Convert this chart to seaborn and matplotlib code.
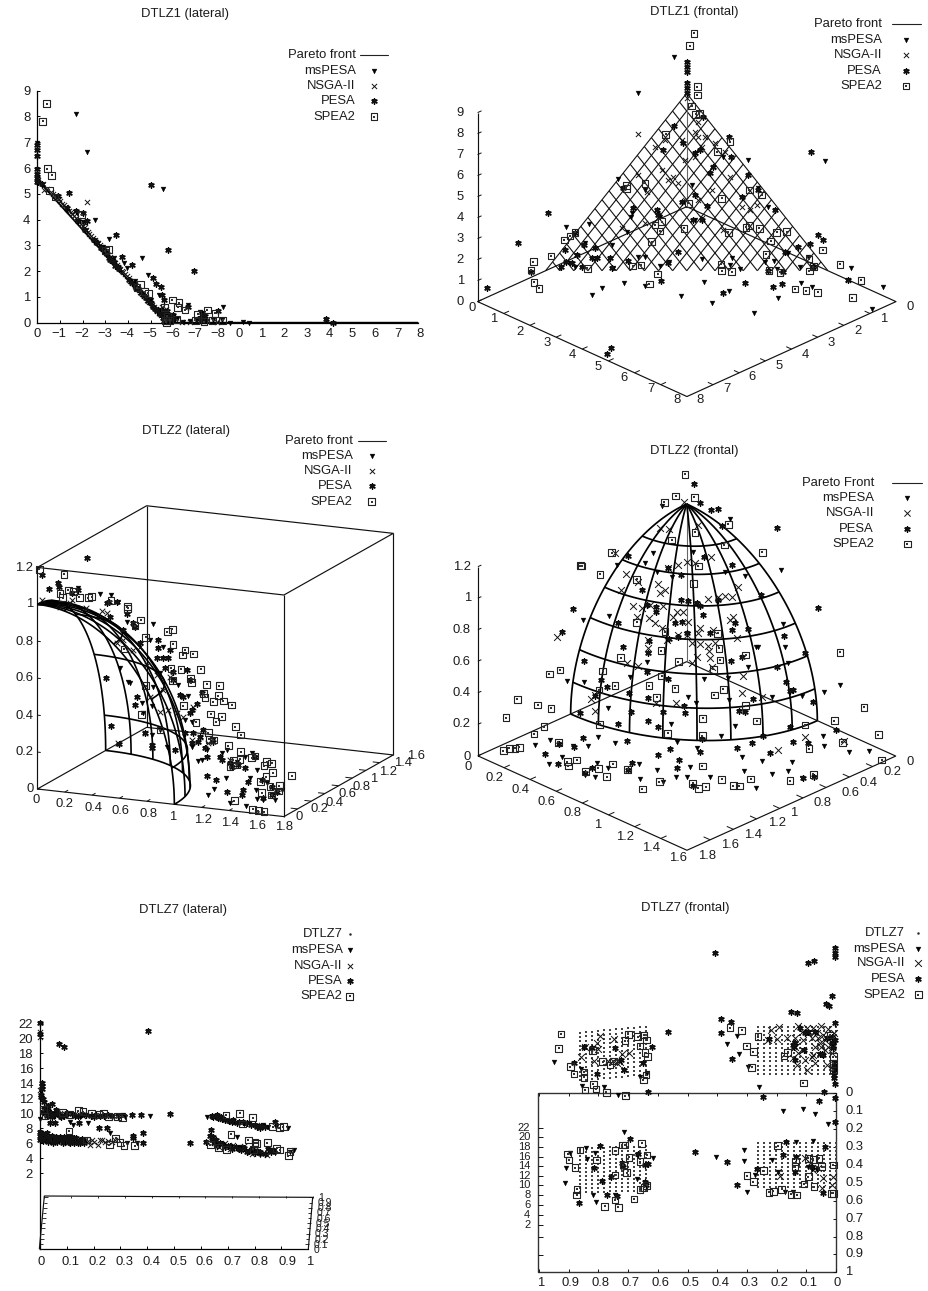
import numpy as np
import matplotlib
matplotlib.use("Agg")
import matplotlib.pyplot as plt
import seaborn as sns

sns.set_theme(style="white")
plt.rcParams['font.family'] = ['Liberation Sans', 'DejaVu Sans']
W, H = 929, 1291
FS = 9.4
INK = '#1c1c1c'

NAMES = ["msPESA", "NSGA-II", "PESA", "SPEA2"]

# DTLZ1 lateral: horizontal runs over two printed axes (0..-8, 0..8), vertical is f3
P1_XTICK_LABELS = ['0', '\u22121', '\u22122', '\u22123', '\u22124', '\u22125', '\u22126', '\u22127', '\u22128',
                   '0', '1', '2', '3', '4', '5', '6', '7', '8']
P1_YTICKS = [0, 1, 2, 3, 4, 5, 6, 7, 8, 9]
P1_FRONT_X = [0, 5.72, 16.8]
P1_FRONT_Y = [5.55, 0, 0]
P1_MSPESA = [(1.71, 8.11), (2.21, 6.64), (5.57, 5.19), (2.55, 3.99), (3.17, 3.26), (4.61, 2.5), (3.95, 2.14), (4.9, 1.85),
             (0, 6.98), (8.19, .6), (7.19, .43), (9.1, .04), (9.37, 0), (8.51, 0), (6.45, .04), (6.75, .08), (5.39, 1.08),
             (6.67, .69), (7.33, .36), (7.78, .1), (8.14, .1), (1.74, 4.25), (3.83, 2.31), (2.0, 3.9), (2.9, 2.95),
             (3.4, 2.5), (4.3, 1.6), (5.0, .9), (5.45, .5), (5.9, .2), (6.15, .15), (7.0, .1), (7.45, .05)]
P1_NSGA = [(.05, 5.55), (.25, 5.4), (.45, 5.2), (.6, 5.08), (.8, 4.92), (.95, 4.78), (1.1, 4.62), (1.25, 4.48), (1.4, 4.35),
           (1.55, 4.2), (1.7, 4.05), (1.85, 3.9), (2.0, 3.75), (2.15, 3.6), (2.3, 3.45), (2.45, 3.3), (2.6, 3.15), (2.75, 3.0),
           (2.9, 2.85), (3.05, 2.7), (3.2, 2.55), (3.35, 2.4), (3.5, 2.25), (3.65, 2.1), (3.8, 1.95), (3.95, 1.8), (4.1, 1.6),
           (4.25, 1.5), (4.4, 1.35), (4.55, 1.2), (4.7, 1.05), (4.85, .9), (5.0, .75), (5.15, .6), (5.3, .45), (5.45, .3),
           (5.6, .15), (5.8, .3), (6.0, .15), (7.05, .05), (7.5, .05), (7.95, .03), (2.18, 4.67), (2.1, 3.85), (6.4, .03),
           (6.75, .03), (12.75, .12), (.3, 5.15), (5.5, .6), (5.7, .55),
           (.7, 4.98), (.88, 4.85), (1.02, 4.72), (1.18, 4.55), (1.33, 4.42), (1.48, 4.28), (1.63, 4.12), (1.78, 3.98), (1.93, 3.82),
           (2.08, 3.68), (2.23, 3.52), (2.38, 3.38), (2.53, 3.22), (2.68, 3.08), (2.83, 2.92), (2.98, 2.78), (3.13, 2.62), (3.28, 2.48),
           (3.43, 2.32), (3.58, 2.18), (3.73, 2.02), (3.88, 1.88), (4.03, 1.72), (4.18, 1.55), (4.33, 1.42), (4.48, 1.28), (4.63, 1.12),
           (4.78, .98), (4.93, .82), (5.08, .68), (5.23, .52), (5.38, .38), (5.53, .22), (5.68, .08)]
P1_PESA = [(0, 6.45), (0, 6.7), (0, 6.9), (0, 5.95), (0, 5.75), (0, 5.6), (0, 5.45), (.05, 5.45), (1.41, 5.03), (5.0, 5.33),
           (5.79, 2.83), (6.92, 2.02), (1.71, 4.32), (3.46, 3.39), (3.76, 2.53), (4.2, 2.22), (5.1, 1.72), (5.24, 1.5),
           (5.46, 1.4), (5.49, 1.08), (6.67, .6), (8, .47), (7.26, .3), (12.75, .13), (13.08, 0), (2.2, 3.93), (2.03, 4.25),
           (.9, 4.9), (1.3, 4.45), (1.8, 3.95), (2.1, 3.6), (2.5, 3.2), (2.8, 2.9), (3.1, 2.65), (3.3, 2.4), (3.6, 2.1),
           (4.05, 1.65), (4.35, 1.35), (4.6, 1.15), (4.9, .85), (5.1, .6), (5.3, .45), (5.5, .3), (5.65, .15), (5.8, .1),
           (6.0, .3), (6.1, .2), (5.6, .9), (5.75, .45), (7.3, .15), (7.25, .05), (5.6, .05), (5.7, .05),
           (.2, 5.4), (2.65, 3.1), (2.9, 2.85), (3.0, 2.8), (3.15, 2.5), (3.2, 2.45), (3.4, 2.35), (3.45, 2.2), (3.55, 2.15),
           (4.2, 1.55), (4.3, 1.45), (4.45, 1.3), (4.7, 1.05), (4.8, .95), (5.0, .75), (5.2, .55), (5.35, .5), (5.4, .35),
           (5.55, .2), (5.6, .3), (5.7, .2), (5.75, .12), (5.85, .25), (5.95, .1), (5.55, .45), (7.2, .2), (7.35, .12), (7.4, .25)]
P1_SPEA2 = [(.41, 8.5), (.24, 7.82), (.44, 5.98), (.63, 5.72), (.53, 5.14), (.78, 4.88), (1.96, 4.19), (3.14, 2.83), (3.0, 2.8),
            (4.54, 1.47), (4.4, 1.35), (4.9, 1.14), (4.75, 1.2), (5.96, .88), (6.26, .78), (6.2, .6), (6.52, .49), (7.51, .49),
            (7.85, .36), (7.08, .32), (6.97, .1), (7.75, .1), (8.19, .1), (7.36, .04), (5.65, .1), (5.85, .1), (6.15, .12),
            (5.6, .6), (5.7, .02), (5.75, .25)]

# DTLZ1 frontal, screen positions on the projected view plane
P2_MSPESA = [(627, 170), (518, 279), (373, 672), (302, 682), (458, 537), (497, 652), (485, 697), (540, 770), (445, 805),
             (410, 865), (382, 886), (478, 850), (540, 857), (585, 797), (612, 785), (647, 889), (718, 845), (740, 908),
             (793, 872), (867, 938), (940, 893), (1007, 848), (1041, 860), (1081, 483), (850, 480), (880, 563), (910, 620),
             (1157, 804), (1253, 861), (1220, 927), (712, 777), (800, 775), (825, 808), (795, 795), (900, 787), (927, 782),
             (935, 808), (1005, 800), (500, 640), (520, 770), (315, 790), (330, 800), (440, 735), (775, 470), (850, 525),
             (690, 660), (970, 760), (1030, 770), (585, 650), (360, 730), (540, 570), (680, 555)]
P2_NSGA = [(520, 403), (665, 295), (700, 365), (690, 395), (720, 410), (570, 440), (590, 510), (520, 525), (545, 575), (610, 540),
           (625, 530), (640, 550), (660, 480), (690, 470), (710, 440), (750, 430), (780, 455), (745, 500), (795, 530), (830, 620),
           (855, 630), (875, 615), (540, 670), (470, 685), (575, 630), (710, 655), (775, 690), (1150, 840), (660, 600), (700, 600),
           (740, 570), (650, 420), (700, 410), (600, 420)]
P2_PESA = [(665, 185), (665, 200), (665, 215), (665, 250), (665, 265), (665, 280), (628, 378), (595, 450), (655, 430), (690, 460),
           (705, 450), (715, 350), (793, 410), (798, 470), (848, 525), (250, 640), (160, 728), (65, 863), (198, 815), (300, 750),
           (303, 785), (288, 800), (330, 700), (358, 735), (335, 765), (380, 775), (395, 775), (390, 745), (435, 775), (490, 783),
           (505, 625), (475, 565), (575, 630), (580, 645), (685, 660), (710, 660), (640, 755), (588, 843), (608, 790), (440, 805),
           (350, 802), (320, 790), (1038, 455), (1058, 705), (1075, 720), (930, 630), (960, 755), (1000, 742), (1035, 733),
           (1045, 800), (1150, 840), (840, 850), (923, 860), (952, 852), (773, 880), (437, 1043), (425, 1062), (955, 815),
           (910, 812), (880, 570), (830, 590), (725, 617), (690, 585), (650, 605), (745, 500), (735, 520)]
P2_SPEA2 = [(687, 100), (674, 137), (697, 260), (697, 285), (680, 318), (692, 343), (703, 340), (602, 403), (795, 425), (757, 455),
            (485, 557), (540, 550), (484, 565), (670, 610), (770, 595), (890, 585), (853, 570), (657, 685), (570, 675), (590, 665),
            (585, 693), (560, 725), (330, 697), (315, 708), (298, 720), (258, 768), (205, 785), (198, 810), (207, 847), (222, 865),
            (367, 805), (503, 798), (528, 795), (578, 822), (553, 852), (768, 793), (770, 812), (800, 815), (790, 697), (843, 682),
            (853, 677), (883, 685), (935, 697), (965, 695), (917, 723), (903, 763), (912, 812), (945, 817), (990, 867), (1023, 872),
            (1058, 877), (1033, 813), (1032, 777), (1073, 750), (1125, 793), (1188, 841), (1162, 893), (1045, 800)]

# DTLZ2 lateral, view plane
P3_MSPESA = [(235, 505), (300, 523), (333, 525), (355, 545), (460, 612), (380, 605), (400, 620), (450, 660), (490, 680), (360, 745),
             (385, 787), (425, 848), (455, 858), (460, 800), (480, 760), (535, 795), (565, 828), (575, 905), (610, 930), (605, 1020),
             (595, 1022), (625, 1125), (643, 1108), (678, 1075), (665, 1000), (690, 1150), (737, 1157), (770, 1137), (800, 1090),
             (845, 1110), (790, 1140), (825, 1140), (750, 1075), (770, 1050), (735, 1045), (680, 990), (640, 960), (620, 990),
             (575, 980), (555, 900), (500, 980), (480, 930), (430, 880), (390, 790), (455, 945), (755, 1000), (735, 1010),
             (712, 1025), (767, 1110)]
P3_NSGA = [(125, 540), (215, 540), (258, 565), (305, 572), (350, 670), (370, 660), (420, 680), (440, 735), (470, 765), (450, 830),
           (480, 875), (505, 870), (580, 860), (530, 880), (550, 890), (600, 950), (625, 970), (575, 960), (690, 1020), (435, 940),
           (355, 970), (210, 550), (180, 560), (320, 580), (400, 690), (490, 810), (510, 770)]
P3_PESA = [(260, 413), (125, 465), (148, 507), (175, 490), (178, 502), (215, 520), (235, 510), (320, 550), (328, 545), (352, 545),
           (380, 582), (330, 590), (400, 610), (405, 620), (370, 630), (420, 670), (475, 660), (475, 685), (510, 690), (505, 715),
           (490, 715), (470, 715), (495, 745), (520, 755), (520, 780), (562, 750), (570, 780), (318, 773), (410, 832), (405, 855),
           (333, 918), (357, 973), (435, 940), (455, 975), (455, 985), (540, 825), (548, 830), (590, 852), (575, 870), (570, 880),
           (605, 820), (610, 930), (580, 940), (600, 950), (575, 970), (595, 965), (615, 985), (620, 1010), (640, 965), (660, 1010),
           (665, 1020), (690, 1030), (695, 1040), (715, 1035), (735, 1043), (765, 1010), (622, 1067), (647, 1080), (680, 1115),
           (725, 1125), (730, 1110), (745, 1085), (785, 1080), (790, 1135), (815, 1100), (830, 1115), (815, 1125), (555, 940),
           (525, 990)]
P3_SPEA2 = [(118, 448), (192, 463), (180, 520), (188, 533), (205, 510), (220, 515), (238, 532), (265, 533), (275, 530), (333, 542),
            (382, 560), (383, 565), (405, 617), (422, 600), (437, 652), (502, 635), (517, 628), (519, 673), (372, 687), (548, 705),
            (555, 690), (580, 702), (602, 748), (513, 745), (543, 748), (518, 782), (572, 775), (574, 788), (620, 793), (658, 797),
            (610, 820), (615, 832), (640, 845), (655, 827), (670, 843), (695, 855), (550, 857), (632, 882), (665, 890), (648, 905),
            (706, 920), (722, 945), (588, 907), (425, 883), (437, 797), (480, 930), (625, 938), (627, 958), (640, 960), (685, 977),
            (722, 995), (755, 1013), (765, 1008), (700, 1020), (720, 1018), (690, 1040), (710, 1035), (800, 1025), (815, 1030),
            (792, 1037), (818, 1058), (798, 1070), (782, 1085), (810, 1100), (838, 1097), (835, 1113), (785, 1118), (815, 1125),
            (703, 1142), (875, 1067), (758, 1168), (775, 1172), (792, 1175)]

# DTLZ2 frontal, view plane
P4_MSPESA = [(590, 197), (795, 238), (947, 390), (565, 338), (540, 370), (457, 375), (433, 527), (355, 540), (307, 723), (358, 725),
             (430, 803), (498, 815), (400, 890), (370, 918), (450, 910), (210, 915), (252, 972), (290, 950), (325, 917), (255, 900),
             (395, 968), (430, 985), (360, 1005), (390, 1010), (522, 972), (575, 990), (525, 1017), (595, 1025), (632, 1012),
             (667, 1010), (675, 982), (695, 925), (735, 1010), (636, 905), (617, 853), (545, 665), (495, 710), (670, 770), (692, 790),
             (718, 717), (790, 715), (792, 780), (810, 857), (768, 887), (878, 620), (873, 622), (850, 680), (955, 553), (960, 620),
             (968, 670), (1010, 768), (1078, 755), (1125, 735), (1075, 888), (1077, 918), (1153, 935), (1213, 933), (980, 965),
             (970, 992), (920, 1003), (1012, 1015), (838, 992), (890, 963), (832, 950), (873, 1043), (920, 770), (840, 407),
             (780, 395), (685, 335), (620, 410), (575, 395)]
P4_NSGA = [(657, 187), (450, 338), (275, 592), (483, 403), (467, 450), (520, 425), (578, 432), (600, 450), (585, 460), (610, 385),
           (640, 375), (665, 365), (690, 370), (738, 352), (820, 440), (780, 468), (800, 472), (760, 470), (730, 478), (505, 497),
           (530, 503), (555, 495), (595, 497), (515, 530), (552, 535), (570, 548), (590, 565), (635, 515), (655, 515), (625, 530),
           (605, 600), (640, 585), (670, 545), (665, 585), (700, 580), (705, 565), (745, 570), (795, 540), (803, 530), (815, 595),
           (705, 613), (680, 610), (730, 618), (750, 610), (735, 655), (733, 632), (695, 650), (680, 670), (740, 680), (550, 600),
           (550, 625), (520, 677), (487, 668), (378, 778), (390, 765), (390, 813), (833, 708), (830, 760), (1138, 903), (938, 930),
           (572, 790), (632, 790), (1020, 890), (890, 770), (585, 265), (612, 268), (700, 255)]
P4_PESA = [(688, 133), (705, 188), (738, 210), (760, 208), (935, 263), (1060, 505), (325, 506), (290, 575), (490, 347), (458, 550),
           (473, 620), (358, 662), (530, 450), (545, 495), (572, 500), (573, 515), (610, 385), (648, 405), (630, 550), (650, 545),
           (665, 580), (640, 590), (612, 598), (648, 480), (670, 482), (695, 490), (705, 497), (715, 525), (735, 578), (760, 480),
           (800, 375), (888, 465), (810, 550), (800, 570), (850, 568), (830, 652), (797, 663), (958, 588), (935, 680), (1020, 640),
           (1045, 785), (962, 727), (975, 752), (985, 750), (865, 777), (822, 812), (840, 817), (658, 797), (660, 820), (595, 815),
           (550, 843), (580, 862), (460, 852), (345, 820), (497, 815), (548, 775), (493, 758), (425, 742), (390, 767), (408, 720),
           (608, 717), (547, 697), (975, 862), (895, 887), (860, 908), (815, 925), (705, 935), (710, 897), (615, 927), (580, 945),
           (642, 960), (637, 985), (500, 968), (488, 990), (487, 903), (355, 893), (327, 920), (283, 912), (240, 943), (280, 973),
           (360, 1000), (382, 985), (1113, 870), (985, 905), (1030, 908), (915, 940), (1015, 1015), (1048, 1010), (685, 1038),
           (552, 602), (550, 640), (770, 257), (718, 352)]
P4_SPEA2 = [(660, 103), (688, 172), (632, 168), (598, 187), (790, 253), (690, 277), (620, 300), (778, 315), (892, 337), (440, 338),
            (350, 378), (346, 377), (405, 403), (515, 418), (700, 378), (685, 430), (515, 547), (600, 575), (758, 580), (588, 632),
            (467, 653), (640, 665), (765, 660), (762, 625), (842, 645), (745, 688), (413, 693), (285, 690), (253, 702), (450, 737),
            (402, 750), (552, 737), (590, 708), (630, 745), (775, 748), (748, 765), (575, 772), (842, 797), (157, 778), (218, 795),
            (258, 805), (123, 833), (713, 835), (875, 843), (404, 853), (237, 860), (207, 882), (608, 880), (712, 887), (1125, 637),
            (1197, 802), (1108, 842), (1020, 855), (1240, 884), (1132, 907), (1032, 926), (280, 907), (163, 922), (150, 925),
            (133, 925), (115, 932), (307, 965), (335, 960), (310, 978), (443, 972), (400, 985), (425, 1010), (362, 995), (488, 988),
            (583, 1025), (532, 1047), (712, 978), (683, 1030), (722, 1040), (700, 1045), (770, 1018), (805, 1037), (823, 1038),
            (857, 1017), (975, 1022), (1045, 1003), (1250, 960)]

# DTLZ7 lateral: f1 on the bottom axis, f3 on the left one
P5_XTICKS = [0, .1, .2, .3, .4, .5, .6, .7, .8, .9, 1]
P5_ZTICKS = [2, 4, 6, 8, 10, 12, 14, 16, 18, 20, 22]
P5_MSPESA = [(.11, 8.9), (.124, 8.44), (.18, 8.75), (.26, 7.33), (.325, 6), (.363, 6.1), (.41, 9.64), (.317, 9.56), (.735, 6.8),
             (.624, 9.47), (.948, 5.1), (.925, 8.1), (.85, 8.2), (.31, 9.78), (0, 9.2), (.15, 9.56), (.075, 9.56), (.78, 8.67),
             (.745, 5.55), (.83, 8.4), (.876, 4.67), (.82, 4.44), (.03, 9.9), (.1, 9.7), (.2, 9.7), (.27, 9.5), (.66, 9.4),
             (.7, 9.0), (.72, 8.8), (.76, 8.6), (.8, 8.3), (.88, 8.2), (.93, 4.9)]
P5_NSGA = [(0, 20.9), (0, 20.2), (0, 13.1), (.006, 11.8), (.03, 10.9), (.186, 5.8), (.217, 5.8), (.167, 6.4), (.192, 6.4), (.223, 6.4),
           (.242, 6.2), (.267, 6.2), (.667, 5.5), (.7, 5.5), (.745, 5.3), (.783, 4.85), (.82, 4.65), (.845, 4.4), (.87, 4.9),
           (.05, 6.4), (.087, 6.2), (.118, 6.4), (.149, 6.2), (.02, 10), (.06, 9.8), (.13, 9.9), (.68, 9.2), (.75, 8.8), (.81, 8.4),
           (.65, 6), (.72, 5.8), (.8, 5.1), (.178, 6.3), (.203, 6.2), (.232, 6.4), (.255, 6.3), (.28, 6.4), (.02, 6.8), (.07, 6.8),
           (.1, 6.0), (.13, 6.6), (.05, 10.1), (.09, 10.0), (.16, 9.7), (.66, 5.9), (.69, 6.0), (.71, 5.2), (.76, 5.6), (.79, 4.6)]
P5_PESA = [(0, 22), (0, 20.6), (.07, 19.25), (.09, 18.9), (.404, 21), (.006, 14), (.006, 13.6), (.006, 13.2), (.005, 12.5),
           (.005, 12.2), (.01, 11.9), (.015, 11.5), (.03, 11), (.045, 11.2), (.06, 10.5), (.037, 8.7), (.056, 8.75), (.147, 8.67),
           (.22, 8.04), (.248, 8), (.348, 7), (.385, 7.33), (.385, 6), (.348, 6.67), (.344, 9.78), (.376, 9.73), (.484, 9.91),
           (.56, 6.04), (.619, 6.2), (.636, 7.78), (.646, 6.9), (.876, 8.9),
           (.01, 10.2), (.025, 9.7), (.04, 10), (.055, 9.8), (.07, 9.9), (.09, 9.7), (.12, 9.9), (.14, 9.6), (.17, 9.8), (.19, 9.6),
           (.21, 9.8), (.24, 9.7), (.27, 9.6), (.29, 9.7),
           (0, 7.5), (0, 7.0), (0, 6.5), (.01, 7.2), (.012, 6.3), (.022, 6.9), (.03, 6.2), (.038, 6.7), (.048, 6.1), (.055, 6.6),
           (.065, 6.2), (.075, 6.8), (.085, 6.1), (.093, 6.5), (.1, 6.9), (.11, 6.0), (.118, 6.5), (.128, 6.1), (.135, 6.7),
           (.145, 6.3), (.15, 6.0), (.16, 6.4),
           (.64, 9.7), (.655, 9.6), (.665, 9.4), (.68, 9.3), (.705, 9.0), (.72, 9.1), (.74, 8.9), (.77, 8.7), (.8, 8.5), (.81, 8.2),
           (.825, 8.3), (.64, 6.5), (.65, 6.0), (.66, 5.6), (.68, 5.9), (.7, 5.6), (.715, 5.3), (.73, 5.5), (.75, 5.1), (.77, 4.9),
           (.79, 5.3), (.8, 4.7), (.81, 5.0), (.84, 4.6), (.85, 5.3), (.87, 5.1),
           (.015, 10.6), (.03, 10.3), (.045, 9.5), (.062, 10.2), (.08, 9.5), (.1, 10.0), (.13, 9.6), (.155, 9.9), (.2, 9.5), (.225, 9.7),
           (.255, 9.8), (.005, 6.9), (.015, 6.6), (.025, 7.4), (.035, 6.4), (.045, 7.0), (.06, 6.9), (.07, 6.4), (.08, 6.5), (.09, 6.9),
           (.105, 6.3), (.115, 6.9), (.125, 6.7), (.14, 6.0), (.155, 6.6), (.165, 6.1),
           (.645, 9.5), (.66, 9.8), (.675, 9.5), (.69, 9.1), (.715, 8.9), (.735, 8.7), (.755, 8.8), (.785, 8.4), (.82, 8.1), (.84, 8.2),
           (.635, 7.0), (.655, 6.4), (.67, 6.1), (.69, 5.5), (.71, 5.7), (.74, 5.2), (.76, 5.4), (.78, 5.0), (.82, 4.8), (.86, 4.8)]
P5_SPEA2 = [(.108, 7.64), (.143, 10.36), (.16, 10.2), (.083, 10.1), (.112, 9.9), (.193, 10), (.217, 9.9), (.236, 10), (.255, 9.56),
            (.288, 9.56), (.308, 9.47), (.012, 10.5), (.019, 9.64), (.174, 6.44), (.258, 5.8), (.282, 6.67), (.298, 6.13), (.313, 5.7),
            (.353, 5.7), (.693, 9.78), (.745, 10), (.754, 8.58), (.793, 9.42), (.712, 7.2), (.776, 6.44), (.801, 6.1), (.807, 6),
            (.847, 6.1), (.882, 5.33), (.894, 5.1), (.932, 4.9), (.925, 4.36), (.696, 5.2), (.665, 5.47), (.634, 5.8), (.867, 8.2),
            (.907, 8.2), (.892, 8.1), (.795, 5.2)]

# DTLZ7 frontal, view plane
P6_MSPESA = [(268, 485), (315, 760), (302, 803), (300, 848), (363, 745), (365, 778), (390, 758), (383, 884), (394, 907), (347, 508),
             (352, 557), (417, 562), (460, 585), (477, 695), (515, 838), (517, 765), (565, 775), (545, 520), (525, 530), (753, 771),
             (786, 432), (817, 408), (821, 463), (836, 751), (836, 783), (845, 877), (881, 561), (870, 825), (922, 780), (940, 815),
             (955, 633), (1015, 628), (1050, 642), (1044, 722), (993, 727), (1090, 672), (960, 875), (850, 500), (985, 875),
             (1055, 810), (1040, 808), (450, 885), (1030, 800)]
P6_NSGA = [(405, 408), (447, 417), (395, 430), (400, 447), (360, 440), (349, 470), (388, 483), (443, 483), (493, 460), (470, 462),
           (430, 483), (455, 490), (465, 485), (918, 390), (943, 380), (910, 420), (937, 418), (967, 415), (990, 415), (1000, 378),
           (1025, 385), (1045, 385), (1068, 378), (1090, 387), (1015, 450), (985, 475), (995, 495), (1020, 480), (1027, 510),
           (1050, 490), (1045, 465), (1090, 440), (1068, 440), (1100, 460), (1085, 495), (1040, 415), (1060, 415), (1010, 395),
           (1075, 405), (1108, 400), (1105, 830), (1102, 855), (945, 827), (940, 815), (1020, 775), (1045, 810), (1075, 835),
           (1070, 865), (1060, 805), (1035, 790), (1030, 400), (1055, 400), (1080, 420), (1065, 430), (1095, 415), (1080, 450),
           (1050, 440), (1040, 470), (1015, 420), (990, 440), (1000, 460)]
P6_PESA = [(750, 158), (1028, 188), (1047, 183), (1110, 145), (1110, 160), (1110, 172), (1100, 288), (1082, 313), (1091, 318), (977, 335),
           (997, 338), (767, 356), (799, 365), (767, 400), (802, 478), (610, 397), (560, 442), (1110, 370), (1078, 575), (1110, 552),
           (1063, 602), (1110, 595), (1110, 667), (893, 590), (548, 576), (327, 490), (358, 442), (380, 445), (450, 445), (478, 510),
           (397, 522), (467, 480), (535, 488), (911, 418), (990, 430), (988, 440), (1005, 385), (1030, 395), (1018, 450), (990, 480),
           (1075, 465), (1070, 462), (1100, 430), (1110, 420), (1108, 500), (1108, 515), (1108, 525), (690, 757), (785, 787), (815, 855),
           (875, 808), (962, 727), (953, 766), (992, 772), (990, 815), (1080, 742), (1075, 880), (1040, 800), (405, 738), (388, 805),
           (410, 842), (343, 910), (425, 885), (437, 832), (472, 790), (475, 800), (495, 718), (518, 763), (540, 795), (550, 792),
           (540, 845), (543, 855), (455, 888), (1020, 400), (1050, 395), (1085, 415), (1105, 430), (1105, 445), (1065, 462), (1108, 490),
           (1108, 508), (1108, 533), (985, 435), (1100, 410)]
P6_SPEA2 = [(288, 402), (281, 445), (316, 500), (327, 522), (357, 516), (357, 532), (382, 452), (385, 553), (393, 567), (360, 570),
            (424, 577), (480, 422), (490, 403), (518, 410), (536, 405), (545, 420), (525, 438), (540, 458), (548, 470), (435, 495),
            (413, 485), (445, 483), (543, 525), (535, 540), (481, 587), (795, 383), (830, 391), (879, 410), (845, 438), (865, 455),
            (860, 502), (957, 468), (968, 457), (1015, 549), (1095, 405), (1105, 470), (1105, 490), (1105, 510), (308, 762), (312, 780),
            (330, 803), (345, 750), (395, 780), (336, 868), (335, 885), (419, 919), (460, 922), (450, 900), (450, 752), (475, 795),
            (485, 818), (492, 772), (450, 825), (480, 735), (472, 735), (525, 785), (530, 730), (546, 765), (525, 868), (537, 862),
            (545, 856), (507, 897), (846, 827), (865, 845), (895, 812), (912, 877), (925, 874), (950, 868), (978, 883), (995, 885),
            (1017, 852), (1030, 830), (1047, 860), (938, 737), (990, 800), (992, 785), (1030, 775), (1045, 778), (1062, 775), (1070, 800),
            (1105, 795), (1105, 880), (1100, 880)]
P6_DOT_LEFT_COLS = [345, 364, 382, 400, 418, 436, 454, 472, 490, 508, 526, 544]
P6_DOT_RIGHT_COLS = [878, 896, 914, 932, 950, 968, 986, 1004, 1022, 1040, 1058, 1076, 1094, 1112]
P6_DOT_UPPER_ROWS = [398, 411, 424, 437, 450, 463, 476, 489, 502, 515, 528, 541]
P6_DOT_LOWER_ROWS = [745, 757, 769, 781, 793, 805, 817, 829, 841, 853, 865, 877]


def view_axes(x, y, w, h):
    # axes over one panel, 3 view units per pixel, y pointing down
    ax = fig.add_axes([x / W, 1 - (y + h) / H, w / W, h / H])
    ax.axis('off')
    ax.patch.set_alpha(0)
    ax.set_xlim(0, w * 3)
    ax.set_ylim(h * 3, 0)
    return ax


def data_axes(left, right, top, bottom):
    ax = fig.add_axes([left / W, 1 - bottom / H, (right - left) / W, (bottom - top) / H])
    ax.patch.set_alpha(0)
    sns.despine(ax=ax)
    for s in ['left', 'bottom']:
        ax.spines[s].set_color('black')
        ax.spines[s].set_linewidth(0.9)
    ax.tick_params(direction='in', length=2.5, width=0.7, color='black', labelsize=FS, labelcolor=INK, pad=5,
                   left=True, bottom=True)
    return ax


def marks(ax, pts, kind, xs=16):
    x = [p[0] for p in pts]
    y = [p[1] for p in pts]
    if kind == "msPESA":
        sns.scatterplot(x=x, y=y, ax=ax, marker='v', s=12, color='black', edgecolor='black', linewidth=0.3, clip_on=False, zorder=4)
    elif kind == "NSGA-II":
        sns.scatterplot(x=x, y=y, ax=ax, marker='x', s=xs, color='#111111', linewidth=0.7, clip_on=False, zorder=4)
    elif kind == "PESA":
        sns.scatterplot(x=x, y=y, ax=ax, marker=(6, 2, 0), s=15, color='black', linewidth=1.0, clip_on=False, zorder=4)
        sns.scatterplot(x=x, y=y, ax=ax, marker='s', s=6, color='#111111', linewidth=0, clip_on=False, zorder=4)
    else:
        sns.scatterplot(x=x, y=y, ax=ax, marker='s', s=24, facecolor='none', edgecolor='#222222', linewidth=0.8, clip_on=False, zorder=5)
        sns.scatterplot(x=x, y=y, ax=ax, marker='s', s=1.2, color='#333333', linewidth=0, clip_on=False, zorder=5)


def series(ax, group, xs=16):
    for name, pts in zip(NAMES, group):
        marks(ax, pts, name, xs)


def legend(ax, names, right, sample, rows, line=None, dot_first=False, xs=16):
    for name, yy in zip(names, rows):
        ax.text(right, yy, name, ha='right', va='center', fontsize=FS, color=INK)
    rest, rest_rows = names, rows
    if line is not None:
        ax.plot(line, [rows[0], rows[0]], color='#222222', lw=0.8)
        rest, rest_rows = names[1:], rows[1:]
    if dot_first:
        ax.plot([sample], [rows[0]], marker='.', ms=1.5, color='#222222')
        rest, rest_rows = names[1:], rows[1:]
    for name, yy in zip(rest, rest_rows):
        marks(ax, [(sample, yy)], name, xs)


def labels(ax, items, size=FS, ha='center'):
    for text, xx, yy in items:
        ax.text(xx, yy, text, ha=ha, va='center', fontsize=size, color=INK, clip_on=False)


def segs(ax, pts, lw=0.85, color='#111111', zorder=2):
    pts = np.array(pts, dtype=float)
    ax.plot(pts[:, 0], pts[:, 1], color=color, lw=lw, zorder=zorder, clip_on=False, solid_capstyle='butt')


def projector(origin, ex, ey, ez):
    def proj(a, b, c):
        return (origin[0] + a * ex[0] + b * ey[0] + c * ez[0], origin[1] + a * ex[1] + b * ey[1] + c * ez[1])
    return proj


def edge_ticks(ax, p, starts, direction, length):
    # small ticks from an axis edge, direction is a 3d offset
    for s in starts:
        q = (s[0] + direction[0] * length, s[1] + direction[1] * length, s[2] + direction[2] * length)
        segs(ax, [p(*s), p(*q)], lw=0.7)


def sphere(ax, p, parallels, lw=1.25):
    az = np.radians(np.linspace(0, 90, 61))
    for th in parallels:
        t = np.radians(th)
        segs(ax, [p(np.cos(t) * np.cos(a), np.cos(t) * np.sin(a), np.sin(t)) for a in az], lw=lw, color='black', zorder=3)
    el = np.radians(np.linspace(0, 90, 61))
    for a_deg in np.arange(0, 90.1, 11.25):
        a = np.radians(a_deg)
        segs(ax, [p(np.cos(t) * np.cos(a), np.cos(t) * np.sin(a), np.sin(t)) for t in el], lw=lw, color='black', zorder=3)


fig = plt.figure(figsize=(W / 100, H / 100), dpi=100, facecolor='white')

# ---- DTLZ1 lateral
ax1 = data_axes(37.3, 417.7, 90.7, 322.7)
ax1.plot(P1_FRONT_X, P1_FRONT_Y, color='black', lw=1.3, clip_on=False, zorder=3)
series(ax1, [P1_MSPESA, P1_NSGA, P1_PESA, P1_SPEA2], xs=14)
ax1.set_xlim(0, 16.8)
ax1.set_ylim(0, 9)
ax1.set_xticks(range(9))
ax1.set_yticks(P1_YTICKS)
ax1.set_xticklabels(['' for _ in range(9)])
ax1.set_yticklabels([str(v) for v in P1_YTICKS])
v1 = view_axes(0, 0, 465, 400)
v1.text(555, 41, "DTLZ1 (lateral)", ha='center', va='center', fontsize=FS, color=INK)
legend(v1, ["Pareto front"] + NAMES, 1067, 1122, [165, 212, 257, 304, 350], line=[1080, 1163], xs=14)
labels(v1, [(t, 110 + 67.9 * i + (0 if i < 9 else -4), 1003) for i, t in enumerate(P1_XTICK_LABELS)])

# ---- DTLZ1 frontal
v2 = view_axes(465, 0, 464, 400)
p2 = projector((665, 620), (78.5, 35.6), (-78.4, 35.6), (0, -63))
segs(v2, [p2(0, 8, 0), p2(8, 8, 0), p2(8, 0, 0), p2(0, 0, 0), p2(0, 8, 0)])
segs(v2, [p2(0, 8, 0), p2(0, 8, 9)])
edge_ticks(v2, p2, [(a, 8, 0) for a in range(1, 8)], (0, -1, 0), 0.2)
edge_ticks(v2, p2, [(8, b, 0) for b in range(1, 8)], (-1, 0, 0), 0.2)
edge_ticks(v2, p2, [(0, 8, c) for c in range(0, 10)], (0, -1, 0), 0.15)
top = 5.4
for a in np.linspace(0, top, 21):
    segs(v2, [p2(a, 0, top - a), p2(a, top - a, 0)], lw=0.8, color='#111111')
    segs(v2, [p2(0, a, top - a), p2(top - a, a, 0)], lw=0.8, color='#111111')
segs(v2, [p2(0, 0, 0), p2(0, 0, top)], lw=0.8, color='#666666')
series(v2, [P2_MSPESA, P2_NSGA, P2_PESA, P2_SPEA2], xs=14)
v2.text(687, 35, "DTLZ1 (frontal)", ha='center', va='center', fontsize=FS, color=INK)
legend(v2, ["Pareto front"] + NAMES, 1251, 1323, [73, 119, 165, 212, 258], line=[1280, 1368], xs=14)
labels(v2, [(str(i), x, y) for i, (x, y) in enumerate([(22, 925), (85, 958), (165, 995), (245, 1028), (322, 1065), (400, 1100), (478, 1135), (557, 1168), (637, 1200)])])
labels(v2, [(str(i), x, y) for i, (x, y) in enumerate([(1335, 922), (1255, 958), (1178, 992), (1098, 1028), (1020, 1065), (942, 1097), (862, 1132), (785, 1168), (705, 1200)])])
labels(v2, [(str(c), -14, 905 - 63 * c) for c in range(10)])

# ---- DTLZ2 lateral
v3 = view_axes(0, 420, 465, 450)
p3 = projector((112, 1107), (411, 46), (205, -115.6), (0, -554))
for c in (0, 1.2):
    segs(v3, [p3(0, 0, c), p3(1.8, 0, c), p3(1.8, 1.6, c), p3(0, 1.6, c), p3(0, 0, c)])
for a, b in [(0, 0), (1.8, 0), (1.8, 1.6), (0, 1.6)]:
    segs(v3, [p3(a, b, 0), p3(a, b, 1.2)])
edge_ticks(v3, p3, [(a, 0, 0) for a in np.arange(.2, 1.8, .2)], (0, 1, 0), 0.05)
edge_ticks(v3, p3, [(1.8, b, 0) for b in np.arange(.2, 1.6, .2)], (-1, 0, 0), 0.05)
edge_ticks(v3, p3, [(0, 0, c) for c in np.arange(0, 1.3, .2)], (1, 0, 0), 0.025)
sphere(v3, p3, [0, 11.25, 33.75, 56.25, 78.75], lw=1.2)
series(v3, [P3_MSPESA, P3_NSGA, P3_PESA, P3_SPEA2], xs=16)
v3.text(557, 32, "DTLZ2 (lateral)", ha='center', va='center', fontsize=FS, color=INK)
legend(v3, ["Pareto front"] + NAMES, 1058, 1115, [62, 107, 152, 198, 245], line=[1075, 1157], xs=14)
labels(v3, [(t, x, y) for t, x, y in zip(['0', '0.2', '0.4', '0.6', '0.8', '1', '1.2', '1.4', '1.6', '1.8'],
                                         [108, 193, 280, 362, 445, 518, 610, 690, 772, 853],
                                         [1140, 1153, 1163, 1172, 1183, 1190, 1200, 1210, 1218, 1222])])
labels(v3, [(t, x, y) for t, x, y in zip(['0', '0.2', '0.4', '0.6', '0.8', '1', '1.2', '1.4', '1.6'],
                                         [898, 958, 1003, 1043, 1085, 1120, 1165, 1208, 1248],
                                         [1192, 1168, 1148, 1123, 1100, 1078, 1055, 1030, 1007])])
labels(v3, [(t, 100, y) for t, y in zip(['0', '0.2', '0.4', '0.6', '0.8', '1', '1.2'], [1107, 997, 887, 775, 665, 553, 443])], ha='right')

# ---- DTLZ2 frontal
v4 = view_axes(465, 440, 464, 430)
p4 = projector((665, 665), (392, 177), (-348, 157), (0, -473))
segs(v4, [p4(0, 1.8, 0), p4(1.6, 1.8, 0), p4(1.6, 0, 0), p4(0, 0, 0), p4(0, 1.8, 0)])
segs(v4, [p4(0, 1.8, 0), p4(0, 1.8, 1.2)])
segs(v4, [p4(0, 0, 0), p4(0, 0, 1)], lw=0.8, color='#666666')
edge_ticks(v4, p4, [(a, 1.8, 0) for a in np.arange(.2, 1.6, .2)], (0, -1, 0), 0.05)
edge_ticks(v4, p4, [(1.6, b, 0) for b in np.arange(.2, 1.8, .2)], (-1, 0, 0), 0.05)
edge_ticks(v4, p4, [(0, 1.8, c) for c in np.arange(0, 1.3, .2)], (0, -1, 0), 0.03)
sphere(v4, p4, [0, 11.25, 22.5, 33.75, 45, 56.25, 67.5], lw=1.25)
series(v4, [P4_MSPESA, P4_NSGA, P4_PESA, P4_SPEA2], xs=24)
v4.text(687, 33, "DTLZ2 (frontal)", ha='center', va='center', fontsize=FS, color=INK)
legend(v4, ["Pareto Front"] + NAMES, 1227, 1327, [128, 173, 220, 266, 312], line=[1282, 1372], xs=20)
labels(v4, [(t, x, y) for t, x, y in zip(['0', '0.2', '0.4', '0.6', '0.8', '1', '1.2', '1.4', '1.6'],
                                         [8, 88, 165, 245, 323, 397, 480, 558, 640],
                                         [980, 1015, 1050, 1085, 1120, 1155, 1190, 1225, 1255])])
labels(v4, [(t, x, y) for t, x, y in zip(['0', '0.2', '0.4', '0.6', '0.8', '1', '1.2', '1.4', '1.6', '1.8'],
                                         [1335, 1283, 1212, 1155, 1073, 985, 935, 865, 795, 725],
                                         [965, 995, 1030, 1058, 1090, 1120, 1150, 1185, 1215, 1248])])
labels(v4, [(t, 18, y) for t, y in zip(['0', '0.2', '0.4', '0.6', '0.8', '1', '1.2'], [950, 853, 758, 665, 570, 475, 380])], ha='right')

# ---- DTLZ7 lateral
ax5 = data_axes(40, 308.3, 1021.7, 1249)
series(ax5, [P5_MSPESA, P5_NSGA, P5_PESA, P5_SPEA2], xs=14)
ax5.set_xlim(0, 1)
ax5.set_ylim(2 + (820 - 1047) / 22.5, 2 + (820 - 365) / 22.5)
ax5.set_xticks(P5_XTICKS)
ax5.set_xticklabels(['' for _ in P5_XTICKS])
ax5.set_yticks(P5_ZTICKS)
ax5.set_yticklabels([str(v) for v in P5_ZTICKS])
v5 = view_axes(0, 900, 465, 391)
segs(v5, [(118, 1047), (133, 888), (938, 892), (925, 1047)])
for i in range(11):
    x0 = 133 + 80.5 * i
    segs(v5, [(x0, 889), (x0, 893)], lw=0.6)
    yl = 1047 - 15.5 * i
    segs(v5, [(925 + 1.3 * i, yl), (915 + 1.3 * i, yl)], lw=0.6)
    segs(v5, [(118 + 1.5 * i, yl), (128 + 1.5 * i, yl)], lw=0.6)
v5.text(550, 29, "DTLZ7 (lateral)", ha='center', va='center', fontsize=FS, color=INK)
legend(v5, ["DTLZ7"] + NAMES, 1028, 1049, [103, 151, 197, 242, 289], dot_first=True, xs=14)
labels(v5, [(t, x, 1085) for t, x in zip(['0', '0.1', '0.2', '0.3', '0.4', '0.5', '0.6', '0.7', '0.8', '0.9', '1'],
                                         [123, 210, 292, 373, 455, 535, 615, 697, 780, 862, 930])])
labels(v5, [(t, 941 + 1.3 * i, 1050 - 15.7 * i) for i, t in enumerate(['0', '0.1', '0.2', '0.3', '0.4', '0.5', '0.6', '0.7', '0.8', '0.9', '1'])],
       size=7.5, ha='left')

# ---- DTLZ7 frontal
v6 = view_axes(465, 900, 464, 391)
segs(v6, [(220, 578), (1113, 578), (1113, 1117), (220, 1117), (220, 578)], lw=1.0, color='#333333')
for i in range(11):
    xt = 1113 - 89.1 * i
    segs(v6, [(xt, 1117), (xt, 1107)], lw=0.7)
    segs(v6, [(xt, 578), (xt, 588)], lw=0.7)
    yt = 580 + 53.7 * i
    segs(v6, [(1113, yt), (1103, yt)], lw=0.7)
for yt in [683, 712, 740, 770, 798, 828, 856, 886, 915, 945, 975, 1012, 1065]:
    segs(v6, [(220, yt), (235, yt)], lw=0.7)
for cols, rows, tilt, shift in [(P6_DOT_LEFT_COLS, P6_DOT_UPPER_ROWS, -0.09, 0), (P6_DOT_RIGHT_COLS, P6_DOT_UPPER_ROWS, 0.0, -18),
                                (P6_DOT_LEFT_COLS, P6_DOT_LOWER_ROWS, -0.03, 0), (P6_DOT_RIGHT_COLS, P6_DOT_LOWER_ROWS, 0.0, -16)]:
    gx, gy = np.meshgrid(cols, rows)
    sns.scatterplot(x=gx.ravel(), y=(gy + (gx - cols[0]) * tilt + shift).ravel(), ax=v6, marker='s', s=0.6, color='#444444', linewidth=0, clip_on=False, zorder=2)
series(v6, [P6_MSPESA, P6_NSGA, P6_PESA, P6_SPEA2], xs=24)
v6.text(662, 24, "DTLZ7 (frontal)", ha='center', va='center', fontsize=FS, color=INK)
legend(v6, ["DTLZ7"] + NAMES, 1320, 1360, [100, 146, 190, 238, 284], dot_first=True, xs=24)
labels(v6, [(t, x, 1150) for t, x in zip(['1', '0.9', '0.8', '0.7', '0.6', '0.5', '0.4', '0.3', '0.2', '0.1', '0'],
                                         [228, 318, 408, 497, 587, 675, 765, 853, 943, 1030, 1117])])
labels(v6, [(t, 1140, 580 + 53.7 * i) for i, t in enumerate(['0', '0.1', '0.2', '0.3', '0.4', '0.5', '0.6', '0.7', '0.8', '0.9', '1'])], ha='left')
labels(v6, [(str(z), 196, y) for z, y in zip([22, 20, 18, 16, 14, 12, 10, 8, 6, 4, 2], [683, 712, 740, 770, 798, 828, 856, 886, 915, 945, 975])],
       size=FS * 0.85, ha='right')

# restore the view limits that scatterplot may have touched
for v, (w, h) in [(v1, (465, 400)), (v2, (464, 400)), (v3, (465, 450)), (v4, (464, 430)), (v5, (465, 391)), (v6, (464, 391))]:
    v.set_xlim(0, w * 3)
    v.set_ylim(h * 3, 0)

fig.savefig("out.png", dpi=100)
